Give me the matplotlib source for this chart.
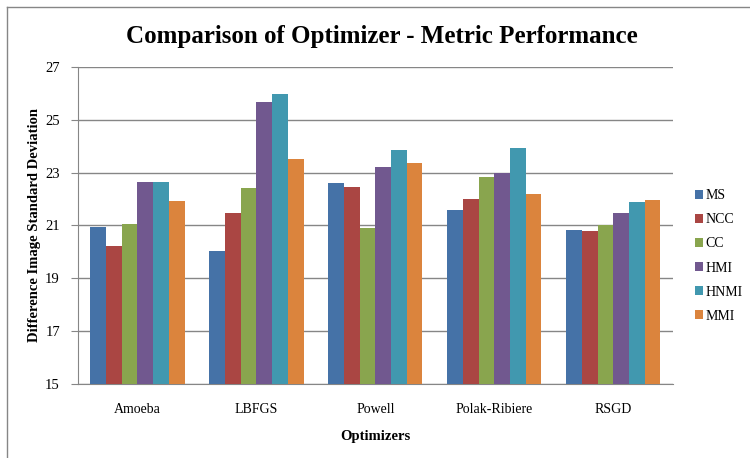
import numpy as np
import matplotlib
matplotlib.use('Agg')
import matplotlib.pyplot as plt
from matplotlib.lines import Line2D

optimizers = ['Amoeba', 'LBFGS', 'Powell', 'Polak-Ribiere', 'RSGD']
metrics = ['MS', 'NCC', 'CC', 'HMI', 'HNMI', 'MMI']

# values per metric, one per optimizer
ms = [20.95, 20.03, 22.61, 21.59, 20.83]
ncc = [20.22, 21.47, 22.46, 22.00, 20.79]
cc = [21.06, 22.42, 20.92, 22.83, 21.02]
hmi = [22.65, 25.67, 23.21, 23.00, 21.47]
hnmi = [22.65, 25.98, 23.86, 23.93, 21.89]
mmi = [21.93, 23.52, 23.36, 22.19, 21.96]
series = [ms, ncc, cc, hmi, hnmi, mmi]

colors = ['#4572A7', '#AA4643', '#89A54E', '#71588F', '#4198AF', '#DB843D']
grid_col = '#868686'
serif = 'Liberation Serif'

fig = plt.figure(figsize=(7.5, 4.58), dpi=100)
ax = fig.add_axes([0.104, 0.1616, 0.793, 0.6921])

x = np.arange(len(optimizers))
w = 0.132
for i, vals in enumerate(series):
    ax.bar(x + (i - 2.5) * w, np.array(vals) - 15, width=w, bottom=15,
           color=colors[i], label=metrics[i], zorder=3, linewidth=0)

ax.set_xlim(-0.5, 4.5)
ax.set_ylim(15, 27)
ax.set_yticks(range(15, 28, 2))
ax.yaxis.grid(True, color=grid_col, linewidth=1, zorder=0)
ax.set_xticks(x)
ax.set_xticklabels(optimizers, fontfamily=serif, fontsize=10)
for lab in ax.get_yticklabels():
    lab.set_fontfamily(serif)
    lab.set_fontsize(10.5)
ax.tick_params(axis='x', length=0, pad=14)
ax.tick_params(axis='y', length=5, color=grid_col, pad=8)
for s in ['top', 'right']:
    ax.spines[s].set_visible(False)
ax.spines['left'].set_color(grid_col)
ax.spines['bottom'].set_color(grid_col)

ax.set_xlabel('Optimizers', fontfamily=serif, fontweight='bold', fontsize=10.5, labelpad=10)
ax.set_ylabel('Difference Image Standard Deviation', fontfamily=serif,
              fontweight='bold', fontsize=10.5, labelpad=3)

fig.text(0.509, 0.921, 'Comparison of Optimizer - Metric Performance', ha='center', va='center',
         fontfamily=serif, fontweight='bold', fontsize=18)

ax.legend(loc='center left', bbox_to_anchor=(682 / 750, 1 - 256 / 458),
          bbox_transform=fig.transFigure, frameon=False,
          prop={'family': serif, 'size': 10}, handlelength=0.6, handleheight=0.6,
          handletextpad=0.2, labelspacing=0.8)

# outer chart frame
fig.add_artist(Line2D([7 / 750, 7 / 750], [0, 1 - 7 / 458], color=grid_col, lw=1))
fig.add_artist(Line2D([7 / 750, 1], [1 - 7 / 458, 1 - 7 / 458], color=grid_col, lw=1))

fig.savefig('out.png', dpi=100)
